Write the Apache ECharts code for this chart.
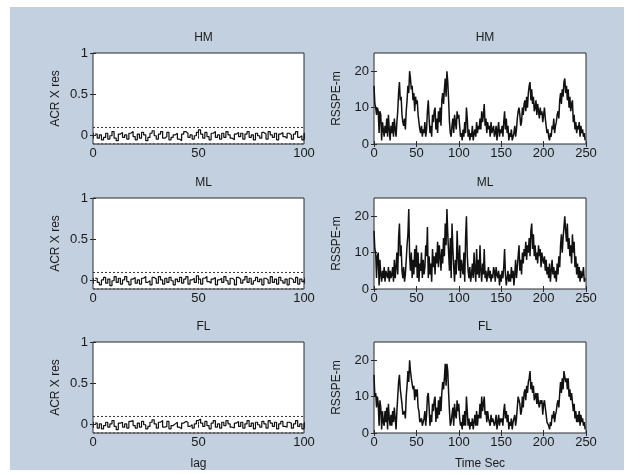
<!DOCTYPE html>
<html>
<head>
<meta charset="utf-8">
<script src="https://cdn.jsdelivr.net/npm/echarts@6/dist/echarts.min.js"></script>
<style>
  html, body { margin: 0; padding: 0; background: #fff; }
  #chart { width: 634px; height: 475px; }
</style>
</head>
<body>
<div id="chart"></div>
<script>
// panel titles and axis names
const titles = ['HM', 'ML', 'FL'];
const acfYName = 'ACR X res';
const rsYName = 'RSSPE-m';
const acfXName = 'lag';
const rsXName = 'Time Sec';

// tick labels
const acfYTicks = [0, 0.5, 1];
const acfXTicks = [0, 50, 100];
const rsYTicks = [0, 10, 20];
const rsXTicks = [0, 50, 100, 150, 200, 250];

// confidence bounds of the autocorrelation
const acfBounds = [0.1, -0.1];

// autocorrelation of the residuals, lags 1..100
const acfHM = [
  0.02,-0.03,0.01,-0.05,-0.02,0.03,-0.04,0.00,0.05,-0.03,
  -0.06,0.02,0.04,-0.02,0.01,-0.04,0.03,0.05,-0.01,-0.05,
  0.02,-0.03,0.04,0.01,-0.06,-0.02,0.03,0.06,0.00,-0.04,
  0.02,0.05,-0.03,-0.01,0.04,-0.05,-0.02,0.01,0.03,-0.04,
  -0.06,0.02,0.05,0.03,-0.02,0.01,-0.04,0.00,0.04,0.07,
  0.02,-0.03,0.04,-0.01,-0.05,0.03,0.05,-0.02,0.01,-0.04,
  0.03,-0.02,0.05,0.01,-0.03,-0.05,0.02,0.04,-0.01,0.03,
  -0.04,0.02,0.05,-0.02,0.01,-0.05,0.03,0.00,-0.03,0.04,
  0.02,-0.04,0.05,0.01,-0.02,0.03,-0.05,0.02,0.04,-0.01,
  -0.03,0.03,0.01,-0.04,0.02,0.05,-0.02,0.00,-0.05,0.03
];
const acfML = [
  0.03,-0.02,-0.05,0.01,0.04,-0.03,0.02,-0.06,0.00,0.05,
  -0.02,0.03,-0.04,0.01,0.05,-0.01,-0.05,0.02,0.04,-0.03,
  0.01,-0.04,0.03,0.05,-0.02,0.00,-0.05,0.04,0.02,-0.03,
  0.05,0.01,-0.04,0.03,-0.02,0.04,0.00,-0.05,0.02,-0.01,
  0.04,-0.03,0.02,0.05,-0.04,0.01,0.03,-0.02,0.06,0.02,
  -0.04,0.03,0.05,-0.01,-0.03,0.02,0.04,-0.05,0.01,0.03,
  -0.02,0.05,0.00,-0.04,0.03,0.01,-0.05,0.04,0.02,-0.03,
  0.01,0.05,-0.02,0.03,-0.04,0.00,0.04,-0.01,0.02,-0.05,
  0.03,0.01,-0.03,0.05,-0.02,0.02,-0.04,0.04,0.00,-0.03,
  0.02,-0.05,0.03,0.01,-0.02,0.04,-0.04,0.02,-0.01,0.01
];
const acfFL = [
  0.02,-0.04,0.01,-0.05,-0.01,0.03,-0.03,0.01,0.05,-0.02,
  -0.06,0.02,0.03,-0.03,0.01,-0.04,0.04,0.05,-0.01,-0.04,
  0.02,-0.03,0.04,0.00,-0.05,-0.02,0.03,0.06,0.01,-0.04,
  0.03,0.05,-0.03,-0.02,0.04,-0.05,-0.01,0.01,0.03,-0.03,
  -0.05,0.02,0.04,0.03,-0.02,0.00,-0.04,0.01,0.05,0.07,
  0.02,-0.02,0.04,-0.01,-0.05,0.02,0.05,-0.03,0.01,-0.04,
  0.03,-0.01,0.05,0.01,-0.03,-0.04,0.02,0.04,-0.02,0.03,
  -0.04,0.01,0.05,-0.02,0.02,-0.05,0.03,0.00,-0.03,0.04,
  0.01,-0.04,0.05,0.02,-0.02,0.03,-0.05,0.01,0.04,-0.02,
  -0.03,0.03,0.02,-0.04,0.01,0.05,-0.02,0.01,-0.05,0.02
];

// RSSPE in metres, t = 0..249 s
const rsHM = [
  16,11,10,8,10,9,3,9,8,1, 6,4,2,5,3,7,2,8,4,1, 5,3,6,2,7,
  4,2,6,9,14,17,12,13,8,6, 5,7,4,9,12,16,14,20,18,15, 16,12,14,9,13,
  11,12,8,6,4,3,5,2,4,3, 6,2,4,9,12,7,3,5,2,8, 6,9,10,4,7,
  3,9,6,10,5,12,14,11,15,18, 13,20,17,12,6,3,2,5,7,3, 8,6,4,9,7,
  8,5,2,3,1,4,2,6,3,10, 7,2,4,1,3,2,5,1,3,4, 2,6,3,5,4,
  7,4,9,6,8,11,5,7,3,6, 4,5,2,6,3,4,5,2,3,5, 1,4,6,2,4,
  3,5,2,6,9,4,7,3,5,1, 3,2,4,1,2,3,5,2,4,7, 9,10,8,5,6,
  10,8,11,12,9,13,10,14,16,17, 12,15,11,13,9,10,12,8,11,9, 7,10,8,9,6,
  8,10,7,5,3,4,2,1,3,2, 5,4,7,3,5,6,8,9,7,12, 14,11,15,13,17,
  18,14,16,12,15,10,13,9,11,12, 6,8,4,6,3,5,4,6,2,5, 3,4,2,3,1
];
const rsML = [
  16,11,10,3,9,10,1,8,4,2, 5,3,6,2,5,4,3,6,2,5,
  3,4,6,2,8,3,6,10,4,14, 18,9,12,5,3,6,2,4,8,12,
  15,22,9,5,10,3,8,4,11,6, 12,3,10,2,7,5,10,3,8,4,
  6,12,9,17,3,9,4,7,2,11, 6,9,4,10,7,13,6,12,9,5,
  11,7,14,9,18,12,22,15,10,5, 14,3,18,11,6,2,8,4,16,9,
  5,12,3,8,6,4,10,2,14,20, 9,5,3,6,2,4,7,3,10,5,
  2,11,4,8,3,12,5,2,7,4, 11,3,5,2,4,6,3,5,2,4,
  3,6,5,2,6,4,3,5,1,4, 2,5,3,6,11,4,1,3,5,2,
  4,2,6,3,5,1,4,8,3,6, 9,12,5,8,4,10,7,11,9,13,
  8,12,10,14,9,16,18,11,15,9, 12,8,10,7,12,9,11,6,10,8,
  7,9,5,8,4,6,3,7,2,5, 8,4,6,3,5,2,7,4,9,6,
  12,15,10,14,17,20,16,13,18,11, 14,9,12,7,15,10,13,6,9,4,
  7,3,6,2,5,3,4,6,2,3
];
const rsFL = [
  16,10,11,7,10,8,2,9,7,1, 6,3,2,6,3,7,1,8,4,2, 5,2,6,3,7,
  4,1,6,10,14,16,12,12,8,5, 5,6,4,10,13,17,14,20,17,15, 15,12,13,9,12,
  10,12,7,6,3,3,4,2,3,4, 6,2,5,10,11,7,2,5,3,8, 6,9,10,3,7,
  4,9,5,10,6,11,14,12,15,19, 13,19,17,11,6,2,3,5,7,2, 8,5,4,9,6,
  8,4,2,3,1,5,2,6,2,10, 6,2,4,1,3,2,4,1,3,5, 2,6,2,5,4,
  8,4,10,6,8,10,5,6,3,6, 4,4,2,5,3,4,4,2,3,5, 1,3,5,2,4,
  3,4,2,6,8,4,6,3,5,1, 3,2,4,1,3,3,5,2,4,7, 10,9,8,5,6,
  10,7,11,12,9,13,11,14,15,17, 12,14,11,13,9,10,11,8,11,8, 7,9,8,9,5,
  8,9,7,5,3,3,2,1,3,2, 5,4,6,3,5,6,8,9,7,11, 14,11,15,12,17,
  17,14,15,12,15,10,12,9,11,11, 6,8,4,6,3,5,3,6,2,5, 3,4,2,3,1
];

const acfSets = [acfHM, acfML, acfFL];
const rsSets = [rsHM, rsML, rsFL];

const chart = echarts.init(document.getElementById('chart'));

const FONT = 'Liberation Sans, Arial, sans-serif';
const TXT = '#1a1a1a';
const rowTops = [53, 198, 342];
const rowH = 91;
const colLeft = [93, 374];
const colW = [211, 212];

const grid = [];
const xAxis = [];
const yAxis = [];
const series = [];
const title = [];

function addPanel(row, col) {
  const g = grid.length;
  const isAcf = col === 0;
  grid.push({
    left: colLeft[col], top: rowTops[row], width: colW[col], height: rowH,
    show: true, backgroundColor: '#ffffff', borderColor: '#2a2a2a', borderWidth: 1
  });
  const xTicks = isAcf ? acfXTicks : rsXTicks;
  const yTicks = isAcf ? acfYTicks : rsYTicks;
  const tick = { show: true, inside: true, length: 3, lineStyle: { color: '#2a2a2a' } };

  // bottom / left axes with labels
  xAxis.push({
    gridIndex: g, type: 'value', min: 0, max: isAcf ? 100 : 250, interval: 50,
    name: row === 2 ? (isAcf ? acfXName : rsXName) : '',
    nameLocation: 'middle', nameGap: 25,
    nameTextStyle: { fontFamily: FONT, fontSize: 12, color: TXT },
    axisLine: { show: false }, splitLine: { show: false },
    axisTick: Object.assign({ customValues: xTicks }, tick),
    axisLabel: { customValues: xTicks, fontFamily: FONT, fontSize: 13, color: TXT, margin: 3 }
  });
  yAxis.push({
    gridIndex: g, type: 'value', min: isAcf ? -0.1 : 0, max: isAcf ? 1 : 25,
    name: isAcf ? acfYName : rsYName,
    nameLocation: 'middle', nameGap: isAcf ? 31 : 31,
    nameTextStyle: { fontFamily: FONT, fontSize: 12, color: TXT },
    axisLine: { show: false }, splitLine: { show: false },
    axisTick: Object.assign({ customValues: yTicks }, tick),
    axisLabel: { customValues: yTicks, fontFamily: FONT, fontSize: 13, color: TXT, margin: 5 }
  });
  // mirrored ticks on top / right
  xAxis.push({
    gridIndex: g, type: 'value', position: 'top', min: 0, max: isAcf ? 100 : 250,
    axisLine: { show: false }, splitLine: { show: false },
    axisTick: Object.assign({ customValues: xTicks }, tick),
    axisLabel: { show: false }
  });
  yAxis.push({
    gridIndex: g, type: 'value', position: 'right', min: isAcf ? -0.1 : 0, max: isAcf ? 1 : 25,
    axisLine: { show: false }, splitLine: { show: false },
    axisTick: Object.assign({ customValues: yTicks }, tick),
    axisLabel: { show: false }
  });
  const xi = xAxis.length - 2;
  const yi = yAxis.length - 2;

  if (isAcf) {
    const vals = acfSets[row];
    series.push({
      type: 'line', xAxisIndex: xi, yAxisIndex: yi, step: 'end', showSymbol: false,
      animation: false, silent: true,
      lineStyle: { color: '#111', width: 1.2 },
      data: vals.map((v, i) => [i + 1, v])
    });
    acfBounds.forEach(b => {
      series.push({
        type: 'line', xAxisIndex: xi, yAxisIndex: yi, showSymbol: false,
        animation: false, silent: true,
        lineStyle: { color: '#333', width: 1, type: [2, 2] },
        data: [[0, b], [100, b]]
      });
    });
  } else {
    const vals = rsSets[row];
    series.push({
      type: 'line', xAxisIndex: xi, yAxisIndex: yi, showSymbol: false,
      animation: false, silent: true,
      lineStyle: { color: '#111', width: 1.5 },
      data: vals.map((v, i) => [i, v])
    });
  }

  title.push({
    text: titles[row],
    left: colLeft[col] + colW[col] / 2, top: rowTops[row] - 26,
    textAlign: 'center',
    textStyle: { fontFamily: FONT, fontSize: 12, fontWeight: 'normal', color: TXT }
  });
}

for (let r = 0; r < 3; r++) {
  addPanel(r, 0);
  addPanel(r, 1);
}

chart.setOption({
  backgroundColor: '#ffffff',
  animation: false,
  graphic: [{
    type: 'rect', z: -10, silent: true,
    shape: { x: 10, y: 7, width: 614, height: 463 },
    style: { fill: '#c2d0df' }
  }],
  title: title,
  grid: grid,
  xAxis: xAxis,
  yAxis: yAxis,
  series: series
});
</script>
</body>
</html>
